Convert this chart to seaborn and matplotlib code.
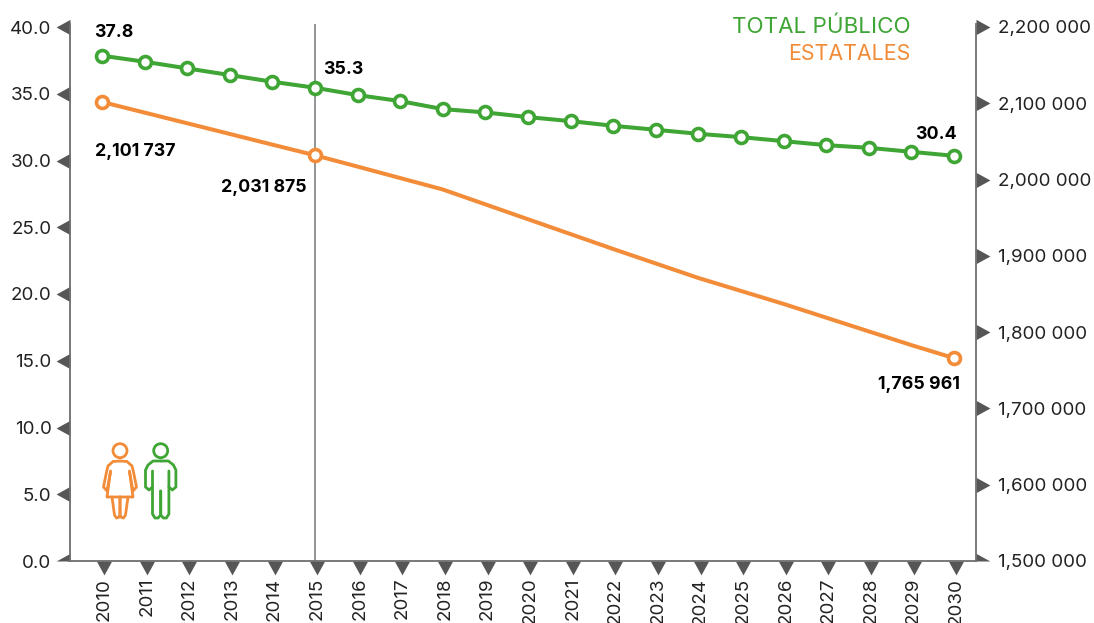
import matplotlib
matplotlib.use("Agg")
import matplotlib.pyplot as plt
import seaborn as sns
import pandas as pd
from matplotlib.path import Path
from matplotlib.lines import Line2D
from matplotlib.patches import Circle
from matplotlib.transforms import Affine2D
from matplotlib.ticker import FuncFormatter

years = list(range(2010, 2031))
total_publico = [37.85, 37.4, 36.9, 36.4, 35.9, 35.45, 34.9, 34.45, 33.85, 33.6, 33.25,
                 32.95, 32.6, 32.3, 32.0, 31.75, 31.45, 31.15, 30.95, 30.65, 30.35]
estatales = [2101737, 2087800, 2073800, 2059800, 2045800, 2031875, 2017000, 2002000,
             1987000, 1967500, 1948000, 1928500, 1909000, 1890000, 1871000, 1854000,
             1837000, 1819000, 1801000, 1783000, 1765961]
total_labels = ["37.8", "35.3", "30.4"]
left_ticks = [0, 5, 10, 15, 20, 25, 30, 35, 40]
right_ticks = [1500000, 1600000, 1700000, 1800000, 1900000, 2000000, 2100000, 2200000]
series_names = ["TOTAL PÚBLICO", "ESTATALES"]
marked_idx = [0, 5, 20]

GREEN = "#3fa535"
ORANGE = "#f28c38"
GREY = "#6e6e6e"
TRI = "#565656"
FONT = "Inter"

W, H = 1094, 623
sns.set_theme(style="white")
plt.rcParams["font.family"] = [FONT, "DejaVu Sans"]

fig = plt.figure(figsize=(W / 100, H / 100), dpi=100)
L, R, T, B = 69.5, 976, 24, 561
ax = fig.add_axes([L / W, 1 - B / H, (R - L) / W, (B - T) / H])
step = 42.6
ax.set_xlim(2010 - (102 - L) / step, 2010 + (R - 102) / step)
ax.set_ylim(0, 40 * (B - T) / 534)
ax2 = ax.twinx()
ax2.set_ylim(1500000, 1500000 + 700000 * (B - T) / 534)

df = pd.DataFrame({"year": years, "total": total_publico, "est": estatales})
ax.axvline(2015, color="#777777", lw=1.1, zorder=0)
mk = dict(marker="o", markersize=8.6, markerfacecolor="white", markeredgewidth=2.6)
sns.lineplot(data=df, x="year", y="total", ax=ax, color=GREEN, lw=2.9,
             markeredgecolor=GREEN, **mk)
sns.lineplot(data=df, x="year", y="est", ax=ax2, color=ORANGE, lw=2.9,
             markeredgecolor=ORANGE, markevery=marked_idx, **mk)
ax.set_xlabel(""); ax.set_ylabel(""); ax2.set_xlabel(""); ax2.set_ylabel("")

# ticks as triangles
tl = Path([(0, -0.55), (0, 0.55), (-1, 0), (0, -0.55)], closed=True)
tl_half = Path([(0, 0), (0, 0.55), (-1, 0), (0, 0)], closed=True)
tr = Path([(0, -0.55), (0, 0.55), (1, 0), (0, -0.55)], closed=True)
tr_half = Path([(0, 0), (0, 0.55), (1, 0), (0, 0)], closed=True)
td = Path([(-0.55, 0), (0.55, 0), (0, -1), (-0.55, 0)], closed=True)

LBL = "#222222"
FS = 13.5
ax.set_yticks(left_ticks)
ax.set_yticklabels([f"{v:.1f}" for v in left_ticks], fontsize=FS, color=LBL)
ax2.set_yticks(right_ticks)
ax2.yaxis.set_major_formatter(FuncFormatter(lambda v, p: f"{int(v):,}".replace(",", "\u0001", 1).replace(",", " ").replace("\u0001", ",")))
ax2.tick_params(axis="y", labelsize=FS, labelcolor=LBL)
ax.set_xticks([y + 0.05 for y in years])
ax.set_xticklabels([str(y) for y in years], rotation=90, fontsize=13.5, color=LBL)
ax.tick_params(axis="x", pad=11, length=1, bottom=True)
ax.tick_params(axis="y", pad=12, length=1)
ax2.tick_params(axis="y", pad=15, length=1)

def style(ticks, path, half=None, tickattr="tick1line"):
    for i, t in enumerate(ticks):
        ln = getattr(t, tickattr)
        ln.set_marker(half if (half is not None and i == 0) else path)
        ln.set_markersize(20)
        ln.set_markerfacecolor(TRI)
        ln.set_markeredgecolor(TRI)
        ln.set_markeredgewidth(0)

style(ax.yaxis.get_major_ticks(), tl, tl_half, "tick1line")
style(ax2.yaxis.get_major_ticks(), tr, tr_half, "tick2line")
style(ax.xaxis.get_major_ticks(), td, None, "tick1line")

for a in (ax, ax2):
    for s in a.spines.values():
        s.set_visible(False)
ax.spines["left"].set_visible(True)
ax.spines["bottom"].set_visible(True)
ax2.spines["right"].set_visible(True)
for s in (ax.spines["left"], ax.spines["bottom"], ax2.spines["right"]):
    s.set_color(GREY); s.set_linewidth(1.3)

# value labels
px = 0.72
def lab(a, x, y, txt, dx, dy, ha):
    a.annotate(txt, xy=(x, y), xytext=(dx * px, dy * px), textcoords="offset points",
               ha=ha, va="center", fontsize=12.8, fontweight="bold", color="black", zorder=10)

def money(v):
    s = f"{v:,}"
    a, b, c = s.split(",")
    return f"{a},{b} {c}"

lab(ax, years[0], total_publico[0], total_labels[0], -8, 23, "left")
lab(ax, years[5], total_publico[5], total_labels[1], 8, 18, "left")
lab(ax, years[20], total_publico[20], total_labels[2], 3, 21, "right")
lab(ax2, years[0], estatales[0], money(estatales[0]), -7, -50, "left")
lab(ax2, years[5], estatales[5], money(estatales[5]), -8, -32, "right")
lab(ax2, years[20], estatales[20], money(estatales[20]), 6, -26, "right")

# series names
fig.text(911 / W, 1 - 27 / H, series_names[0], color=GREEN, fontsize=16.1, ha="right", va="center")
fig.text(911 / W, 1 - 54 / H, series_names[1], color=ORANGE, fontsize=15.4, ha="right", va="center")

# pictograms, in pixel space
to_px = Affine2D().scale(1, -1).translate(0, H)
def pl(pts, col):
    fig.add_artist(Line2D([p[0] for p in pts], [p[1] for p in pts], color=col, lw=2,
                          transform=to_px, solid_capstyle="round", solid_joinstyle="round"))
def mirror(pts, cx):
    return [(2 * cx - x, y) for x, y in pts]

cx = 120
fem = [(cx, 461), (113, 461.5), (108, 466), (106.5, 472), (103.5, 487), (107, 491), (110.5, 472)]
skirt = [(110.5, 471), (107, 497), (cx, 497)]
leg = [(112, 497), (114.5, 515), (116.5, 518), (118.5, 517.5), (cx, 515), (cx, 497)]
for part in (fem, skirt, leg):
    pl(part, ORANGE); pl(mirror(part, cx), ORANGE)
fig.add_artist(Circle((cx, 450.7), 7, transform=to_px, fill=False, ec=ORANGE, lw=2))

cx = 160.7
male = [(cx, 461), (153, 461), (148, 465), (145.5, 470), (145.5, 487), (149, 490), (152.5, 487)]
inner = [(152.5, 471), (152.5, 514), (155, 518), (158, 518), (cx, 515), (cx, 491)]
for part in (male, inner):
    pl(part, GREEN); pl(mirror(part, cx), GREEN)
fig.add_artist(Circle((cx, 450.7), 7, transform=to_px, fill=False, ec=GREEN, lw=2))

fig.savefig("out.png", dpi=100)
